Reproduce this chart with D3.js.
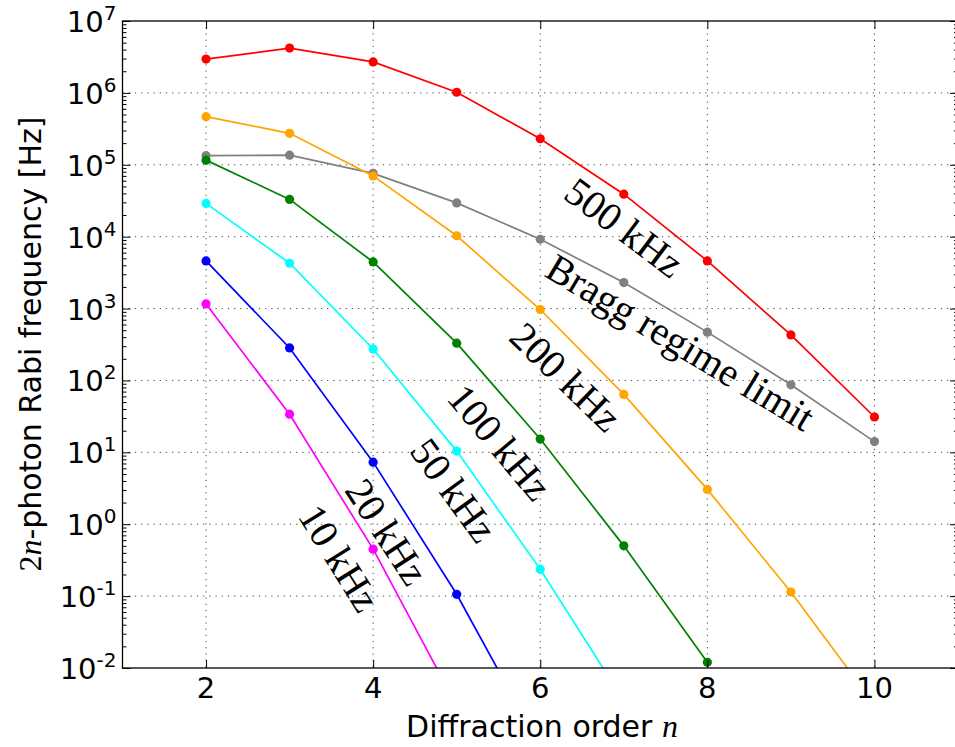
<!DOCTYPE html>
<html>
<head>
<meta charset="utf-8">
<script src="https://cdn.jsdelivr.net/npm/d3@7"></script>
<style>
  body { margin: 0; background: #fff; }
  svg { display: block; }
</style>
</head>
<body>
<div id="chart"></div>
<script>
// Diffraction orders and 2n-photon Rabi frequencies (Hz)
const orders = [2, 3, 4, 5, 6, 7, 8, 9, 10];
const rabi500 = [2.95e6, 4.2e6, 2.7e6, 1.02e6, 2.3e5, 3.9e4, 4.6e3, 430, 31];
const braggLimit = [1.34e5, 1.36e5, 7.6e4, 2.95e4, 9.2e3, 2.3e3, 470, 87, 14.1];
const rabi200 = [4.67e5, 2.74e5, 7.0e4, 1.03e4, 970, 64, 3.05, 0.114, 3.1e-3];
const rabi100 = [1.16e5, 3.3e4, 4.45e3, 330, 15.3, 0.5, 0.012];
const rabi50 = [2.9e4, 4.27e3, 274, 10.4, 0.237, 3.5e-3];
const rabi20 = [4.6e3, 283, 7.3, 0.106, 8e-4];
const rabi10 = [1160, 33.9, 0.45, 3e-3];

const seriesNames = ["500 kHz", "Bragg regime limit", "200 kHz", "100 kHz", "50 kHz", "20 kHz", "10 kHz"];
const seriesValues = [rabi500, braggLimit, rabi200, rabi100, rabi50, rabi20, rabi10];
const seriesColors = ["#ff0000", "#808080", "#ffa500", "#008000", "#00ffff", "#0000ff", "#ff00ff"];

// where each curve label sits (order n, frequency) and its tilt in degrees
const labelN = [7.01, 7.68, 6.31, 5.52, 4.97, 4.17, 3.6];
const labelV = [1.36e4, 343, 113, 13.9, 2.99, 0.79, 0.34];
const labelAngle = [37, 31, 44, 50, 54, 57, 58];

const xTicks = [2, 4, 6, 8, 10];
const yExponents = [-2, -1, 0, 1, 2, 3, 4, 5, 6, 7];

const W = 955, H = 747;
const margin = { top: 21, right: -3, bottom: 79, left: 122.5 };
const width = W - margin.left - margin.right;
const height = H - margin.top - margin.bottom;

const svg = d3.select("#chart").append("svg")
    .attr("width", W)
    .attr("height", H);

const g = svg.append("g")
    .attr("transform", `translate(${margin.left},${margin.top})`);

const x = d3.scaleLinear().domain([1, 11]).range([0, width]);
const y = d3.scaleLog().domain([1e-2, 1e7]).range([height, 0]);

g.append("clipPath").attr("id", "plot-clip")
    .append("rect").attr("width", width).attr("height", height);

// dotted grid
const gridStyle = sel => sel
    .attr("stroke", "#444")
    .attr("stroke-width", 1)
    .attr("stroke-dasharray", "1.2,5");

g.append("g").selectAll("line")
    .data(xTicks)
    .join("line")
    .attr("x1", d => x(d)).attr("x2", d => x(d))
    .attr("y1", 0).attr("y2", height)
    .call(gridStyle);

g.append("g").selectAll("line")
    .data(yExponents.slice(1, -1))
    .join("line")
    .attr("x1", 0).attr("x2", width)
    .attr("y1", d => y(Math.pow(10, d))).attr("y2", d => y(Math.pow(10, d)))
    .call(gridStyle);

// curves
const line = d3.line()
    .x((d, i) => x(orders[i]))
    .y(d => y(d));

const plot = g.append("g").attr("clip-path", "url(#plot-clip)");

seriesValues.forEach((vals, k) => {
    plot.append("path")
        .datum(vals)
        .attr("fill", "none")
        .attr("stroke", seriesColors[k])
        .attr("stroke-width", 1.7)
        .attr("d", line);

    plot.append("g").selectAll("circle")
        .data(vals)
        .join("circle")
        .attr("cx", (d, i) => x(orders[i]))
        .attr("cy", d => y(d))
        .attr("r", 4.6)
        .attr("fill", seriesColors[k]);
});

// ticks (pointing inward)
const minorVals = [];
yExponents.slice(0, -1).forEach(e => {
    for (let m = 2; m <= 9; m++) minorVals.push(m * Math.pow(10, e));
});
const majorVals = yExponents.map(e => Math.pow(10, e));

const tickAxis = (axis, transform) => {
    const a = g.append("g").attr("transform", transform).call(axis);
    a.select(".domain").remove();
    a.selectAll("text").remove();
    a.selectAll("line").attr("stroke", "#000").attr("stroke-width", 1);
    return a;
};

tickAxis(d3.axisLeft(y).tickValues(majorVals).tickSize(-8), "");
tickAxis(d3.axisLeft(y).tickValues(minorVals).tickSize(-4), "");
tickAxis(d3.axisRight(y).tickValues(majorVals).tickSize(-8), `translate(${width},0)`);
tickAxis(d3.axisRight(y).tickValues(minorVals).tickSize(-4), `translate(${width},0)`);
tickAxis(d3.axisBottom(x).tickValues(xTicks).tickSize(-8), `translate(0,${height})`);
tickAxis(d3.axisTop(x).tickValues(xTicks).tickSize(-8), "");

// frame
g.append("rect")
    .attr("width", width).attr("height", height)
    .attr("fill", "none")
    .attr("stroke", "#000")
    .attr("stroke-width", 1.3);

// tick labels
const sans = "'DejaVu Sans', sans-serif";

g.append("g").selectAll("text")
    .data(xTicks)
    .join("text")
    .attr("x", d => x(d))
    .attr("y", height + 30)
    .attr("text-anchor", "middle")
    .style("font-family", sans)
    .style("font-size", "29px")
    .text(d => d);

const yLabels = g.append("g").selectAll("text")
    .data(yExponents)
    .join("text")
    .attr("x", -6)
    .attr("y", d => y(Math.pow(10, d)) + 11)
    .attr("text-anchor", "end")
    .style("font-family", sans)
    .style("font-size", "29px");
yLabels.append("tspan").text("10");
yLabels.append("tspan")
    .attr("dy", -12)
    .style("font-size", "20px")
    .text(d => d);

// axis titles
const xTitle = svg.append("text")
    .attr("x", 542)
    .attr("y", 737)
    .attr("text-anchor", "middle")
    .style("font-family", sans)
    .style("font-size", "30px");
xTitle.append("tspan").text("Diffraction order ");
xTitle.append("tspan")
    .style("font-family", "'Liberation Serif', serif")
    .style("font-style", "italic")
    .style("font-size", "32px")
    .text("n");

const yTitle = svg.append("text")
    .attr("transform", "translate(41,344) rotate(-90)")
    .attr("text-anchor", "middle")
    .style("font-family", sans)
    .style("font-size", "30px");
yTitle.append("tspan")
    .style("font-family", "'Liberation Serif', serif")
    .style("font-size", "32px")
    .text("2");
yTitle.append("tspan")
    .style("font-family", "'Liberation Serif', serif")
    .style("font-style", "italic")
    .style("font-size", "32px")
    .text("n");
yTitle.append("tspan").text("-photon Rabi frequency [Hz]");

// curve labels
g.append("g").selectAll("text")
    .data(seriesNames)
    .join("text")
    .attr("transform", (d, i) => `translate(${x(labelN[i])},${y(labelV[i])}) rotate(${labelAngle[i]})`)
    .attr("text-anchor", "middle")
    .attr("dy", "0.35em")
    .style("font-family", "'Liberation Serif', serif")
    .style("font-size", "40px")
    .text(d => d);
</script>
</body>
</html>
